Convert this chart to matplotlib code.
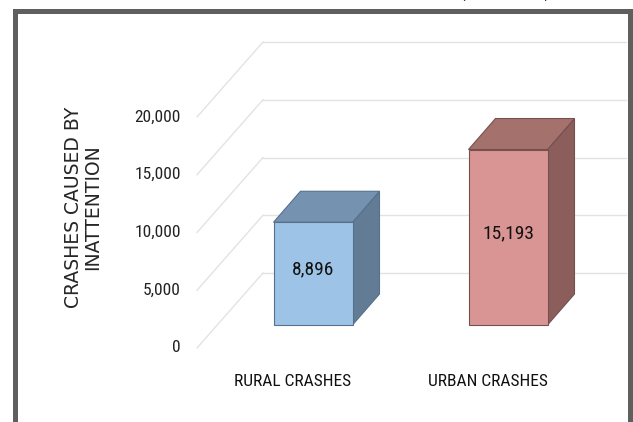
import matplotlib
matplotlib.use("Agg")
import matplotlib.pyplot as plt
import matplotlib.transforms as mtransforms
from matplotlib import font_manager
from matplotlib.patches import Polygon, Rectangle

categories = ["RURAL CRASHES", "URBAN CRASHES"]
crashes = [8896, 15193]
y_ticks = [0, 5000, 10000, 15000, 20000]

front_colors = ["#9dc3e6", "#d99594"]
top_colors = ["#7592b0", "#a5716d"]
side_colors = ["#637c95", "#8b5e5c"]
edge_colors = ["#56718b", "#74504e"]

# pick a narrow face close to Calibri if one is installed
installed = {f.name for f in font_manager.fontManager.ttflist}
narrow = next((n for n in ["Liberation Sans Narrow", "Roboto Condensed",
                            "DejaVu Sans Condensed", "Liberation Sans"]
               if n in installed), "DejaVu Sans")
NARROW = [narrow, "DejaVu Sans"]
DPI = 100

fig = plt.figure(figsize=(6.33, 4.22), dpi=DPI)
ax = fig.add_axes([0, 0, 1, 1])
ax.set_axis_off()
# front plane of the bars: 195 px per category, 11.55 px per 1000 crashes
ax.set_xlim(-313 / 195, (633 - 313) / 195)
ax.set_ylim(-97 / 0.01155, (422 - 97) / 0.01155)


def shift(dx, dy):
    # data coords moved by a pixel offset (fake 3d depth)
    return ax.transData + mtransforms.ScaledTranslation(dx / DPI, dy / DPI, fig.dpi_scale_trans)


def to_data(trans, x, y):
    return ax.transData.inverted().transform(trans.transform((x, y)))


back = shift(46, 52)
front_floor = shift(-20, -23)
depth = shift(27, 31)

wall_left = -96 / 195
wall_right = (626 - 313 - 46) / 195

# walls: back gridlines + side wall diagonals
for v in y_ticks:
    ax.plot([wall_left, wall_right], [v, v], transform=back,
            color="#e3e3e3", lw=1.0, zorder=1)
    p0 = to_data(front_floor, wall_left, v)
    p1 = to_data(back, wall_left, v)
    ax.plot([p0[0], p1[0]], [p0[1], p1[1]], color="#e3e3e3", lw=1.0, zorder=1)
    ax.text(wall_left, v, f"{v:,}", transform=shift(-36, -23),
            ha="right", va="center", fontsize=12.5, family=NARROW, color="#222222")

width = 79 / 195
for i, value in enumerate(crashes):
    x0, x1 = i - width / 2, i + width / 2
    top = [(x0, value), (x1, value),
           tuple(to_data(depth, x1, value)), tuple(to_data(depth, x0, value))]
    side = [(x1, 0), (x1, value),
            tuple(to_data(depth, x1, value)), tuple(to_data(depth, x1, 0))]
    ax.add_patch(Polygon(side, closed=True, facecolor=side_colors[i],
                         edgecolor=edge_colors[i], lw=0.8, zorder=3))
    ax.add_patch(Polygon(top, closed=True, facecolor=top_colors[i],
                         edgecolor=edge_colors[i], lw=0.8, zorder=3))
    ax.add_patch(Rectangle((x0, 0), width, value, facecolor=front_colors[i],
                           edgecolor=edge_colors[i], lw=0.8, zorder=4))
    ax.text(i, value / 2, f"{value:,}", transform=shift(0, 4),
            ha="center", va="center", fontsize=14, family=NARROW,
            color="#111111", zorder=5)
    ax.text(i, 0, categories[i], transform=shift(-20, -57),
            ha="center", va="center", fontsize=12.5, family=NARROW, color="#111111")

fig.text(83 / 633, 1 - 207 / 422, "CRASHES CAUSED BY\nINATTENTION",
         rotation=90, ha="center", va="center", multialignment="center",
         fontsize=13.5, linespacing=1.0, family="DejaVu Sans", color="#262626")

# title sits above the frame and is mostly cut off, as in the source image
fig.text(505 / 633, 1 + 3 / 422, "(2014-2016)", ha="center", va="baseline",
         fontsize=13, fontweight="bold", family=NARROW, color="black")

frame = Rectangle((14.5 / 633, -0.1), (629.5 - 14.5) / 633, 1.1 - 11.5 / 422,
                  transform=fig.transFigure, fill=False,
                  edgecolor="#5f5f5f", lw=5 * 72 / DPI, zorder=10)
fig.patches.append(frame)

fig.savefig("out.png", dpi=DPI)
plt.close(fig)
